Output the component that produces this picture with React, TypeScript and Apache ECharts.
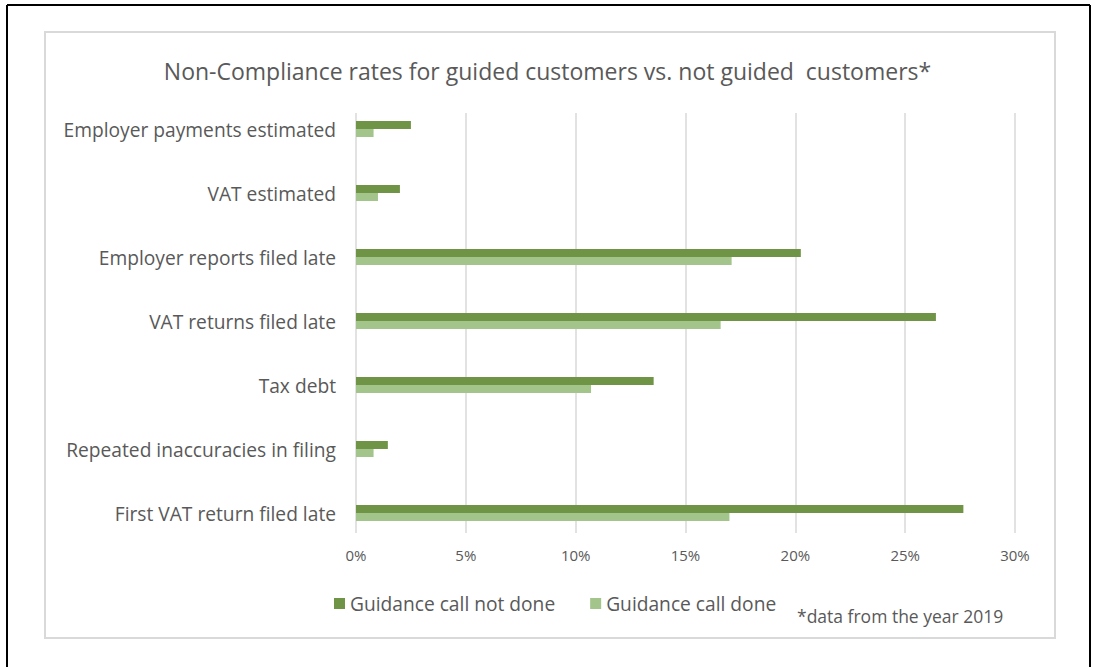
import React, { useEffect, useRef } from "react";
import * as echarts from "echarts";

const categories = [
  "First VAT return filed late",
  "Repeated inaccuracies in filing",
  "Tax debt",
  "VAT returns filed late",
  "Employer reports filed late",
  "VAT estimated",
  "Employer payments estimated",
];
const notDone = [27.65, 1.45, 13.55, 26.4, 20.25, 2.0, 2.5];
const done = [17.0, 0.8, 10.7, 16.6, 17.1, 1.0, 0.8];
const seriesNames = ["Guidance call not done", "Guidance call done"];
const titleText = "Non-Compliance rates for guided customers vs. not guided  customers*";
const footnote = "*data from the year 2019";

const FONT = "'Open Sans', Lato, sans-serif";
const GRAY = "#595959";

export default function App() {
  const ref = useRef<HTMLDivElement>(null);
  useEffect(() => {
    document.body.style.margin = "0";
    const chart = echarts.init(ref.current!, undefined, { renderer: "svg" });
    chart.setOption({
      animation: false,
      backgroundColor: "#ffffff",
      title: {
        text: titleText,
        left: "center",
        top: 54,
        textStyle: { fontFamily: FONT, fontSize: 23, fontWeight: "normal", color: GRAY },
      },
      grid: [
        { left: 356, right: 80, top: 113, height: 420 },
        { left: 356, right: 80, top: 97, height: 448 },
      ],
      xAxis: [
        {
          gridIndex: 0,
          type: "value",
          min: 0,
          max: 30,
          interval: 5,
          axisLabel: {
            formatter: "{value}%",
            fontFamily: FONT,
            fontSize: 15,
            color: GRAY,
            margin: 14,
          },
          axisLine: { show: false },
          axisTick: { show: false },
          splitLine: { lineStyle: { color: "#d9d9d9", width: 1.5 } },
        },
        {
          gridIndex: 1,
          type: "value",
          min: 0,
          max: 30,
          show: false,
          splitLine: { show: false },
        },
      ],
      yAxis: [
        {
          gridIndex: 0,
          type: "category",
          data: categories,
          show: false,
        },
        {
          gridIndex: 1,
          type: "category",
          data: categories,
          axisLabel: { fontFamily: FONT, fontSize: 19.2, color: GRAY, margin: 20 },
          axisLine: { show: false },
          axisTick: { show: false },
        },
      ],
      legend: {
        data: seriesNames,
        left: 329,
        top: 589,
        itemWidth: 11,
        itemHeight: 11,
        itemGap: 35,
        icon: "rect",
        textStyle: { fontFamily: FONT, fontSize: 19.2, color: GRAY },
      },
      series: [
        {
          name: seriesNames[0],
          type: "bar",
          xAxisIndex: 1,
          yAxisIndex: 1,
          data: notDone,
          barWidth: 8,
          barGap: "0%",
          itemStyle: { color: "#6f9445" },
        },
        {
          name: seriesNames[1],
          type: "bar",
          xAxisIndex: 1,
          yAxisIndex: 1,
          data: done,
          barWidth: 8,
          barGap: "0%",
          itemStyle: { color: "#a3c48b" },
        },
      ],
      graphic: [
        { type: "line", shape: { x1: 7, y1: 5, x2: 1090, y2: 5 }, style: { stroke: "#000", lineWidth: 2 } },
        { type: "line", shape: { x1: 7, y1: 5, x2: 7, y2: 667 }, style: { stroke: "#000", lineWidth: 2 } },
        { type: "line", shape: { x1: 1090, y1: 5, x2: 1090, y2: 667 }, style: { stroke: "#000", lineWidth: 2 } },
        {
          type: "rect",
          shape: { x: 45, y: 32, width: 1010, height: 606 },
          style: { fill: "none", stroke: "#d9d9d9", lineWidth: 2 },
          z: -1,
        },
        {
          type: "text",
          left: 797,
          top: 607,
          style: { text: footnote, fontFamily: FONT, fontSize: 17.5, fill: GRAY },
        },
      ],
    });
    return () => chart.dispose();
  }, []);
  return <div ref={ref} style={{ position: "absolute", left: 0, top: 0, width: 1095, height: 667 }} />;
}
